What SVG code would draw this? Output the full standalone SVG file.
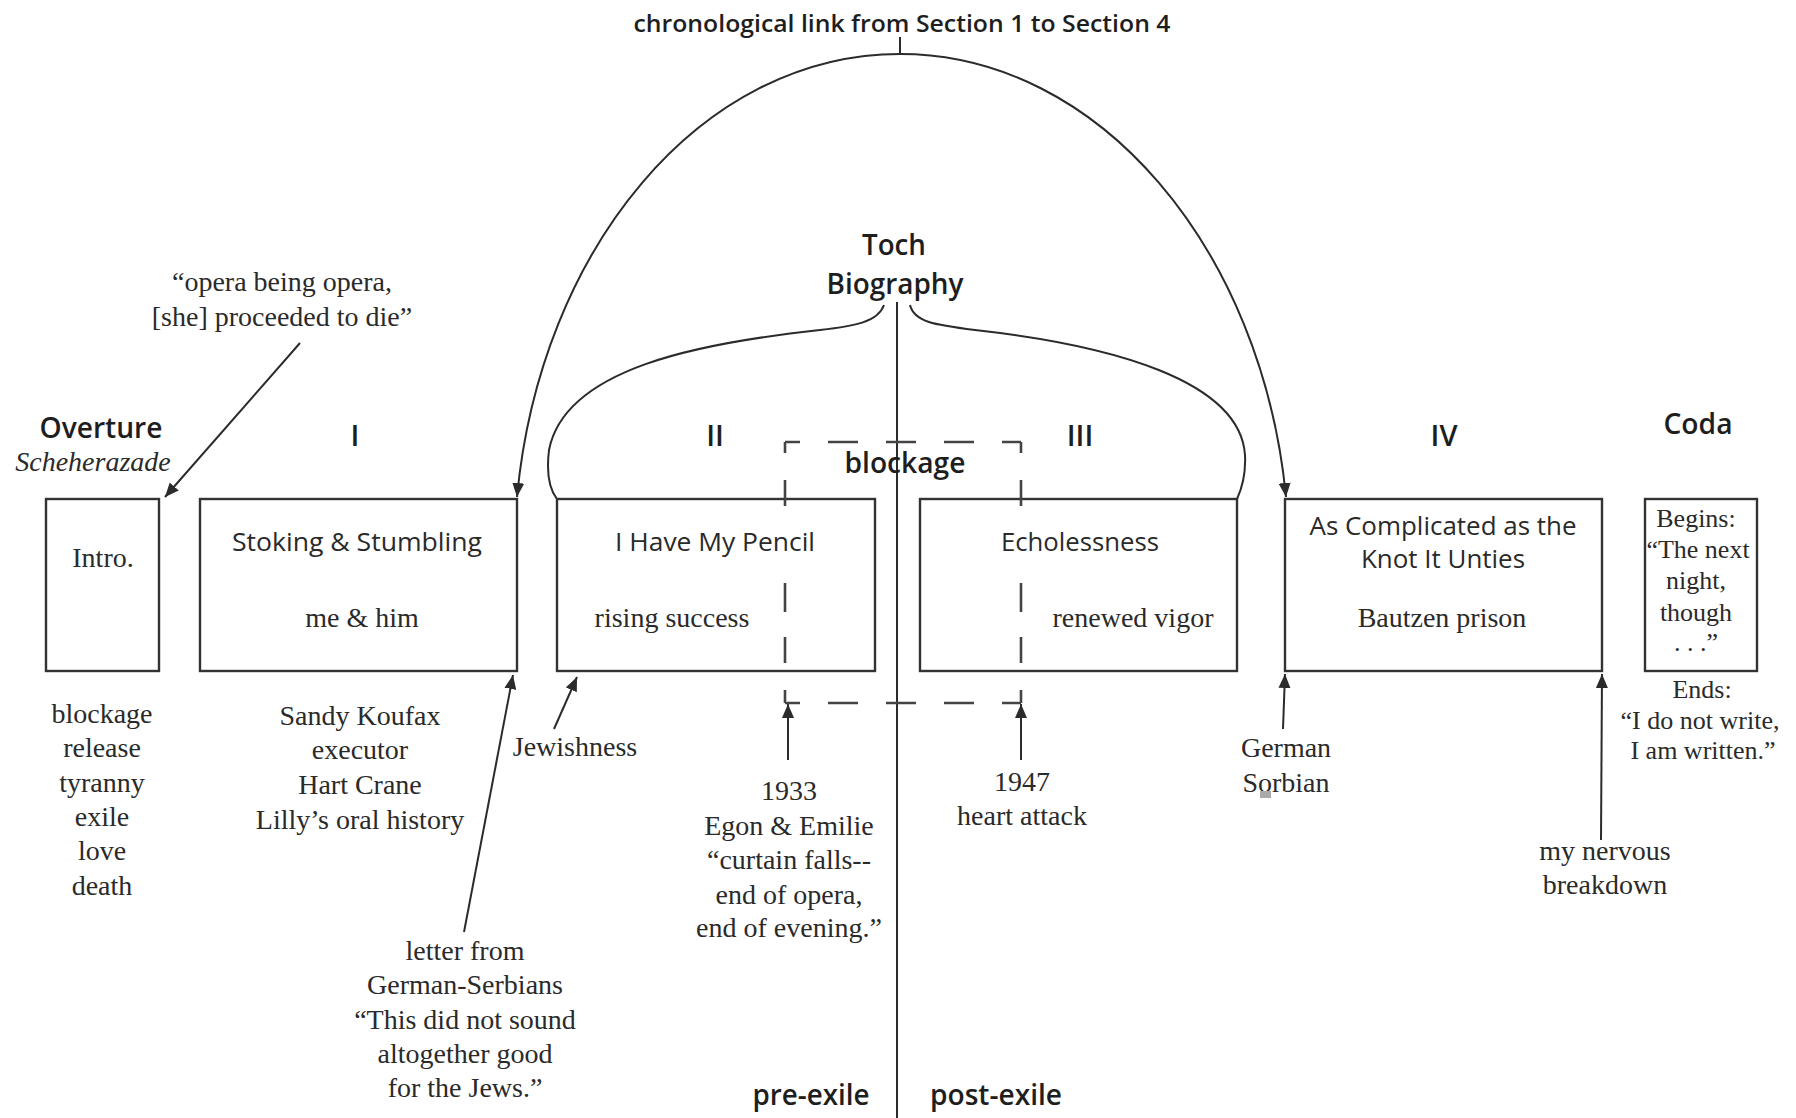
<svg xmlns="http://www.w3.org/2000/svg" width="1796" height="1118" viewBox="0 0 1796 1118">
<defs>
<marker id="arr" markerUnits="userSpaceOnUse" markerWidth="14" markerHeight="12" refX="14" refY="6" orient="auto">
<path d="M0,0 L14,6 L0,12 z" fill="#2b2b2b"/>
</marker>
<style>
.bx{fill:#fff;stroke:#333;stroke-width:2.4}
.ln{fill:none;stroke:#2b2b2b;stroke-width:2}
.ar{fill:none;stroke:#2b2b2b;stroke-width:2;marker-end:url(#arr)}
.dash{fill:none;stroke:#444;stroke-width:2.6}
.hd{font-family:"Open Sans","Noto Sans",sans-serif;font-weight:600;fill:#1e1e1e;text-anchor:middle}
.ss{font-family:"Open Sans","Noto Sans",sans-serif;font-weight:400;fill:#2a2a2a;text-anchor:middle;font-size:26px}
.sf{font-family:"Liberation Serif","Times New Roman",serif;fill:#2a2a2a;text-anchor:middle;font-size:28px}
.sm{font-size:26px}
</style>
</defs>
<rect width="1796" height="1118" fill="#fff"/>

<g id="connectors">
<line class="ln" x1="900" y1="37" x2="900" y2="54"/>
<path class="ar" d="M900,54 C700,54 540,250 517,497"/>
<path class="ar" d="M900,54 C1100,54 1262,250 1286,497"/>
<path class="ln" d="M884,305 C878,322 855,326 820,330 C700,343 565,368 549,450 C546,475 550,490 557,499"/>
<path class="ln" d="M910,305 C914,322 935,325 975,330 C1110,345 1240,380 1245,455 C1246,475 1242,488 1237,499"/>
<line class="ln" x1="897" y1="302" x2="897" y2="1118"/>
<path class="ar" d="M300,343 L165,497"/>
<path class="ar" d="M464,932 L513,675"/>
<path class="ar" d="M554,729 L577,677"/>
<path class="ar" d="M788,760 L788,704"/>
<path class="ar" d="M1021,760 L1021,704"/>
<path class="ar" d="M1283,729 L1285,674"/>
<path class="ar" d="M1601,840 L1602,674"/>
</g>

<g id="overture">
<text class="hd" x="101" y="438" font-size="28" textLength="123" lengthAdjust="spacingAndGlyphs">Overture</text>
<text class="sf" x="93" y="471" font-style="italic" fill="#3a3a3a">Scheherazade</text>
<rect class="bx" x="46" y="499" width="113" height="172"/>
<text class="sf" x="103" y="567">Intro.</text>
<text class="sf" x="102" y="723">blockage</text>
<text class="sf" x="102" y="757">release</text>
<text class="sf" x="102" y="792">tyranny</text>
<text class="sf" x="102" y="826">exile</text>
<text class="sf" x="102" y="860">love</text>
<text class="sf" x="102" y="895">death</text>
</g>

<g id="opera-note">
<text class="sf" x="282" y="291">“opera being opera,</text>
<text class="sf" x="282" y="326">[she] proceeded to die”</text>
</g>

<g id="section-1">
<text class="hd" x="355" y="446" font-size="29">I</text>
<rect class="bx" x="200" y="499" width="317" height="172"/>
<text class="ss" x="357" y="551" textLength="250" lengthAdjust="spacingAndGlyphs">Stoking &amp; Stumbling</text>
<text class="sf" x="362" y="627">me &amp; him</text>
<text class="sf" x="360" y="725">Sandy Koufax</text>
<text class="sf" x="360" y="759">executor</text>
<text class="sf" x="360" y="794">Hart Crane</text>
<text class="sf" x="360" y="829">Lilly’s oral history</text>
</g>

<g id="letter-note">
<text class="sf" x="465" y="960">letter from</text>
<text class="sf" x="465" y="994">German-Serbians</text>
<text class="sf" x="465" y="1029">“This did not sound</text>
<text class="sf" x="465" y="1063">altogether good</text>
<text class="sf" x="465" y="1097">for the Jews.”</text>
</g>

<g id="jewishness-note">
<text class="sf" x="575" y="756">Jewishness</text>
</g>

<g id="toch-biography">
<text class="hd" x="894" y="255" font-size="28" textLength="64" lengthAdjust="spacingAndGlyphs">Toch</text>
<text class="hd" x="895" y="294" font-size="28" textLength="137" lengthAdjust="spacingAndGlyphs">Biography</text>
</g>

<g id="title">
<text class="hd" x="902" y="32" font-size="23" textLength="537" lengthAdjust="spacingAndGlyphs">chronological link from Section 1 to Section 4</text>
</g>

<g id="section-2">
<text class="hd" x="715" y="446" font-size="29">II</text>
<rect class="bx" x="557" y="499" width="318" height="172"/>
<text class="ss" x="715" y="551" textLength="200" lengthAdjust="spacingAndGlyphs">I Have My Pencil</text>
<text class="sf" x="672" y="627">rising success</text>
</g>

<g id="section-3">
<text class="hd" x="1080" y="446" font-size="29">III</text>
<rect class="bx" x="920" y="499" width="317" height="172"/>
<text class="ss" x="1080" y="551" textLength="158" lengthAdjust="spacingAndGlyphs">Echolessness</text>
<text class="sf" x="1133" y="627">renewed vigor</text>
</g>

<g id="blockage">
<path class="dash" d="M785,442 H800 M828,442 H858 M886,442 H916 M944,442 H974 M1002,442 H1021
M785,703 H800 M828,703 H858 M886,703 H916 M944,703 H974 M1002,703 H1021
M785,442 V453 M785,480 V506 M785,583 V612 M785,637 V663 M785,690 V703
M1021,442 V453 M1021,480 V506 M1021,583 V612 M1021,637 V663 M1021,690 V703"/>
<text class="hd" x="905" y="473" font-size="28" textLength="121" lengthAdjust="spacingAndGlyphs">blockage</text>
</g>

<g id="note-1933">
<text class="sf" x="789" y="800">1933</text>
<text class="sf" x="789" y="835">Egon &amp; Emilie</text>
<text class="sf" x="789" y="869">“curtain falls--</text>
<text class="sf" x="789" y="904">end of opera,</text>
<text class="sf" x="789" y="937">end of evening.”</text>
</g>

<g id="note-1947">
<text class="sf" x="1022" y="791">1947</text>
<text class="sf" x="1022" y="825">heart attack</text>
</g>

<g id="section-4">
<text class="hd" x="1444" y="446" font-size="29">IV</text>
<rect class="bx" x="1285" y="499" width="317" height="172"/>
<text class="ss" x="1443" y="535" textLength="267" lengthAdjust="spacingAndGlyphs">As Complicated as the</text>
<text class="ss" x="1443" y="568" textLength="164" lengthAdjust="spacingAndGlyphs">Knot It Unties</text>
<text class="sf" x="1442" y="627">Bautzen prison</text>
</g>

<g id="german-sorbian-note">
<text class="sf" x="1286" y="757">German</text>
<text class="sf" x="1286" y="792">Sorbian</text>
<rect x="1260" y="791" width="11" height="7" fill="#aaa"/>
</g>

<g id="breakdown-note">
<text class="sf" x="1605" y="860">my nervous</text>
<text class="sf" x="1605" y="894">breakdown</text>
</g>

<g id="coda">
<text class="hd" x="1698" y="434" font-size="28" textLength="69" lengthAdjust="spacingAndGlyphs">Coda</text>
<rect class="bx" x="1645" y="499" width="112" height="172"/>
<text class="sf sm" x="1696" y="527">Begins:</text>
<text class="sf sm" x="1698" y="558">“The next</text>
<text class="sf sm" x="1696" y="589">night,</text>
<text class="sf sm" x="1696" y="621">though</text>
<text class="sf sm" x="1696" y="651">. . .”</text>
<text class="sf sm" x="1702" y="698">Ends:</text>
<text class="sf sm" x="1700" y="729">“I do not write,</text>
<text class="sf sm" x="1703" y="759">I am written.”</text>
</g>

<g id="exile-labels">
<text class="hd" x="811" y="1105" font-size="28" textLength="117" lengthAdjust="spacingAndGlyphs">pre-exile</text>
<text class="hd" x="996" y="1105" font-size="28" textLength="132" lengthAdjust="spacingAndGlyphs">post-exile</text>
</g>
</svg>
